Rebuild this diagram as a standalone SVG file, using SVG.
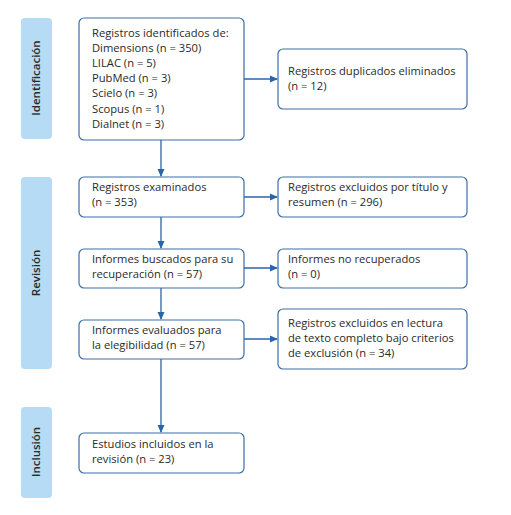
<svg xmlns="http://www.w3.org/2000/svg" width="511" height="515" viewBox="0 0 511 515">
<defs>
<marker id="arr" markerWidth="8" markerHeight="8" refX="7" refY="4" orient="auto" markerUnits="userSpaceOnUse">
<path d="M0,0.5 L8,4 L0,7.5 Z" fill="#2b64a8"/>
</marker>
<style>
.bar{fill:#b5dcf4;}
.box{fill:#fff;stroke:#3d6fa6;stroke-width:1.2;}
.t{font-family:"Open Sans","Liberation Sans",sans-serif;font-size:11.2px;font-weight:500;fill:#2a2a2a;}
.s{font-family:"Open Sans","Liberation Sans",sans-serif;font-size:11.5px;font-weight:600;fill:#2a2a2a;text-anchor:middle;}
.c{stroke:#2b64a8;stroke-width:1.3;fill:none;marker-end:url(#arr);}
</style>
</defs>
<rect width="511" height="515" fill="#fff"/>
<g id="phase-identificacion"><rect class="bar" x="21" y="18" width="31" height="121" rx="4"/><text class="s" transform="translate(40,78) rotate(-90)">Identificación</text></g>
<g id="phase-revision"><rect class="bar" x="21" y="177" width="31" height="192" rx="4"/><text class="s" transform="translate(40,273) rotate(-90)">Revisión</text></g>
<g id="phase-inclusion"><rect class="bar" x="21" y="407" width="31" height="91" rx="4"/><text class="s" transform="translate(40,452) rotate(-90)">Inclusión</text></g>

<g id="n-identificados"><rect class="box" x="79" y="18" width="165" height="122" rx="5"/>
<text class="t" x="92" y="37">Registros identificados de:</text>
<text class="t" x="92" y="52">Dimensions (n = 350)</text>
<text class="t" x="92" y="67">LILAC (n = 5)</text>
<text class="t" x="92" y="82">PubMed (n = 3)</text>
<text class="t" x="92" y="97">Scielo (n = 3)</text>
<text class="t" x="92" y="113">Scopus (n = 1)</text>
<text class="t" x="92" y="128">Dialnet (n = 3)</text></g>
<g id="n-duplicados"><rect class="box" x="278" y="49" width="189" height="60" rx="5"/>
<text class="t" x="288" y="75">Registros duplicados eliminados</text>
<text class="t" x="288" y="90">(n = 12)</text></g>
<g id="n-examinados"><rect class="box" x="79" y="177" width="165" height="40" rx="5"/>
<text class="t" x="92" y="191">Registros examinados</text>
<text class="t" x="92" y="206">(n = 353)</text></g>
<g id="n-excl-titulo"><rect class="box" x="278" y="177" width="189" height="40" rx="5"/>
<text class="t" x="288" y="191">Registros excluidos por título y</text>
<text class="t" x="288" y="206">resumen (n = 296)</text></g>
<g id="n-buscados"><rect class="box" x="79" y="249" width="165" height="39" rx="5"/>
<text class="t" x="92" y="263">Informes buscados para su</text>
<text class="t" x="92" y="278">recuperación (n = 57)</text></g>
<g id="n-no-recuperados"><rect class="box" x="278" y="249" width="189" height="39" rx="5"/>
<text class="t" x="288" y="263">Informes no recuperados</text>
<text class="t" x="288" y="278">(n = 0)</text></g>
<g id="n-evaluados"><rect class="box" x="79" y="320" width="165" height="39" rx="5"/>
<text class="t" x="92" y="334">Informes evaluados para</text>
<text class="t" x="92" y="349">la elegibilidad (n = 57)</text></g>
<g id="n-excl-lectura"><rect class="box" x="278" y="309" width="189" height="60" rx="5"/>
<text class="t" x="288" y="327">Registros excluidos en lectura</text>
<text class="t" x="288" y="342">de texto completo bajo criterios</text>
<text class="t" x="288" y="357">de exclusión (n = 34)</text></g>
<g id="n-incluidos"><rect class="box" x="79" y="433" width="165" height="40" rx="5"/>
<text class="t" x="92" y="448">Estudios incluidos en la</text>
<text class="t" x="92" y="463">revisión (n = 23)</text></g>

<g id="connectors">
<line class="c" x1="161" y1="140" x2="161" y2="176"/>
<line class="c" x1="244" y1="79" x2="277" y2="79"/>
<line class="c" x1="161" y1="217" x2="161" y2="248"/>
<line class="c" x1="244" y1="197" x2="277" y2="197"/>
<line class="c" x1="161" y1="288" x2="161" y2="319"/>
<line class="c" x1="244" y1="268" x2="277" y2="268"/>
<line class="c" x1="161" y1="359" x2="161" y2="432"/>
<line class="c" x1="244" y1="339" x2="277" y2="339"/>
</g>
</svg>
